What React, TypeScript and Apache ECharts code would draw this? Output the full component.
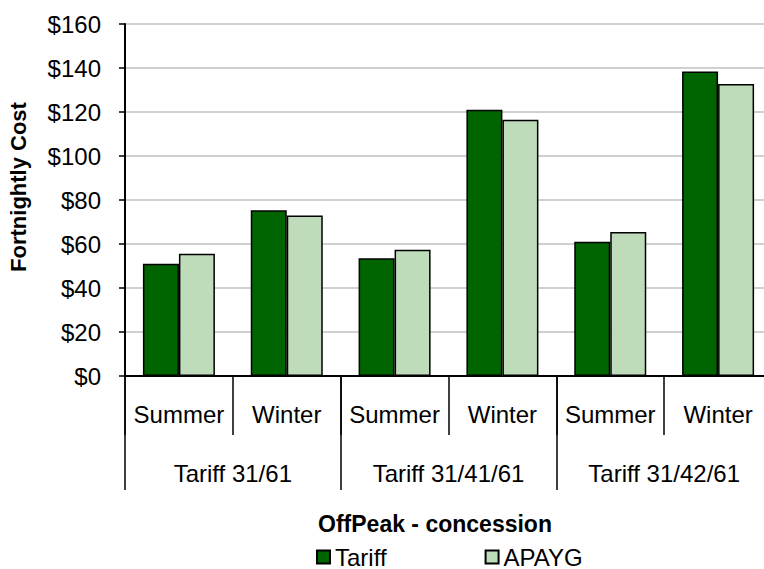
import React, { useEffect, useRef } from "react";
import * as echarts from "echarts";

const seasons = ["Summer", "Winter", "Summer", "Winter", "Summer", "Winter"];
const groups = ["Tariff 31/61", "Tariff 31/41/61", "Tariff 31/42/61"];
const tariff = [51, 75.3, 53.5, 121, 61, 138.4];
const apayg = [55.6, 72.9, 57.4, 116.5, 65.5, 132.7];
const yTicks = [0, 20, 40, 60, 80, 100, 120, 140, 160];

const FONT = "'Liberation Sans', Arial, sans-serif";

export default function App() {
  const ref = useRef<HTMLDivElement>(null);
  useEffect(() => {
    if (!ref.current) return;
    const chart = echarts.init(ref.current, undefined, { renderer: "svg" });
    const gridGeom = { left: 125, top: 24, width: 647, height: 352, outerBoundsMode: "none", containLabel: false };
    chart.setOption({
      animation: false,
      backgroundColor: "#ffffff",
      textStyle: { fontFamily: FONT, color: "#000" },
      grid: [gridGeom, { ...gridGeom }],
      xAxis: [
        {
          type: "category",
          gridIndex: 0,
          data: seasons,
          position: "bottom",
          axisLine: { show: true, lineStyle: { color: "#000", width: 2 } },
          axisTick: { show: true, interval: 0, length: 59, lineStyle: { color: "#000", width: 1.5 } },
          axisLabel: {
            interval: 0,
            margin: 38,
            verticalAlign: "middle",
            fontSize: 24,
            color: "#000",
            fontFamily: FONT,
          },
          splitLine: { show: false },
        },
        {
          type: "category",
          gridIndex: 1,
          data: groups,
          position: "bottom",
          axisLine: { show: false },
          axisTick: { show: true, interval: 0, length: 114, lineStyle: { color: "#000", width: 1.5 } },
          axisLabel: {
            interval: 0,
            margin: 97,
            verticalAlign: "middle",
            fontSize: 24,
            color: "#000",
            fontFamily: FONT,
          },
          splitLine: { show: false },
        },
      ],
      yAxis: [
        {
          type: "value",
          gridIndex: 0,
          min: yTicks[0],
          max: yTicks[yTicks.length - 1],
          interval: 20,
          axisLine: { show: true, lineStyle: { color: "#000", width: 2 } },
          axisTick: { show: true, inside: false, length: 6, lineStyle: { color: "#000", width: 1.5 } },
          axisLabel: {
            margin: 24,
            fontSize: 24,
            color: "#000",
            fontFamily: FONT,
            formatter: (v: number) => "$" + v,
          },
          splitLine: { show: true, lineStyle: { color: "#c0c0c0", width: 1.5 } },
        },
        {
          type: "value",
          gridIndex: 1,
          show: false,
        },
      ],
      legend: {
        left: 316,
        top: 545,
        padding: 0,
        itemWidth: 13,
        itemHeight: 13,
        itemGap: 98,
        icon: "rect",
        textStyle: { fontSize: 24, color: "#000", fontFamily: FONT },
        data: ["Tariff", "APAYG"],
      },
      graphic: [
        {
          type: "text",
          x: 18,
          y: 187,
          rotation: Math.PI / 2,
          style: {
            text: "Fortnightly Cost",
            font: "bold 22px " + FONT,
            fill: "#000",
            textAlign: "center",
            textVerticalAlign: "middle",
          },
        },
        {
          type: "text",
          x: 435,
          y: 524,
          style: {
            text: "OffPeak - concession",
            font: "bold 23px " + FONT,
            fill: "#000",
            textAlign: "center",
            textVerticalAlign: "middle",
          },
        },
      ],
      series: [
        {
          name: "Tariff",
          type: "bar",
          xAxisIndex: 0,
          yAxisIndex: 0,
          data: tariff,
          barWidth: 36,
          barGap: "0%",
          itemStyle: { color: "#006400", borderColor: "#000", borderWidth: 1.5 },
        },
        {
          name: "APAYG",
          type: "bar",
          xAxisIndex: 0,
          yAxisIndex: 0,
          data: apayg,
          barWidth: 36,
          barGap: "0%",
          itemStyle: { color: "#bedcb9", borderColor: "#000", borderWidth: 1.5 },
        },
      ],
    });
    return () => chart.dispose();
  }, []);
  return (
    <div
      ref={ref}
      style={{ position: "fixed", left: 0, top: 0, width: 764, height: 569, background: "#fff" }}
    />
  );
}
